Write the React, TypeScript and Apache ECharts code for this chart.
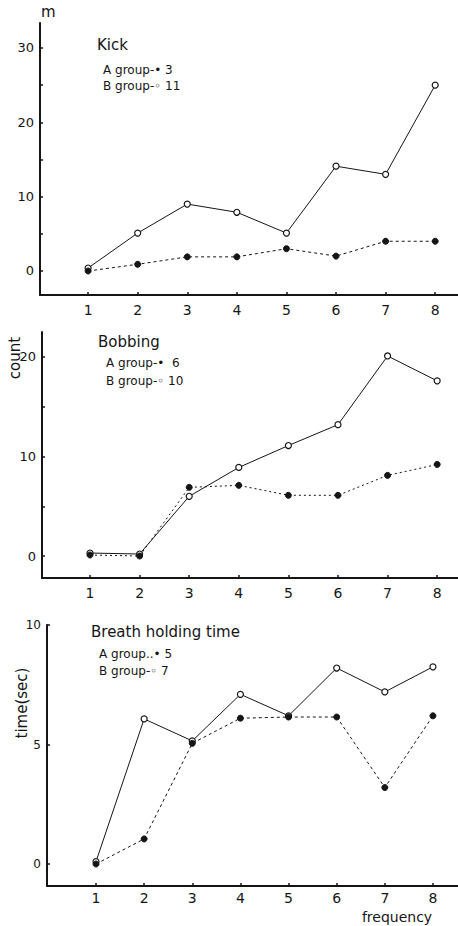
import React, { useEffect, useRef } from "react";
import * as echarts from "echarts";

const frequency = [1, 2, 3, 4, 5, 6, 7, 8];

const kickA = [0, 0.9, 1.9, 1.9, 3, 2, 4, 4];
const kickB = [0.4, 5.1, 9, 7.9, 5.1, 14.1, 13, 25];

const bobbingA = [0.1, 0, 6.9, 7.1, 6.1, 6.1, 8.1, 9.2];
const bobbingB = [0.3, 0.2, 6, 8.9, 11.1, 13.2, 20.1, 17.6];

const breathA = [0, 1.05, 5.05, 6.1, 6.15, 6.15, 3.2, 6.2];
const breathB = [0.1, 6.07, 5.15, 7.1, 6.2, 8.2, 7.2, 8.25];

const kickLabels = [0, 10, 20, 30];
const kickTicks = [0, 5, 10, 15, 20, 25, 30];
const bobbingLabels = [0, 10, 20];
const bobbingTicks = [0, 5, 10, 15, 20];
const breathLabels = [0, 5, 10];
const breathTicks = [0, 5, 10];

const titles = ["Kick", "Bobbing", "Breath holding time"];
const legendA = ["A group-\u2022 3", "A group-\u2022  6", "A group..\u2022 5"];
const legendB = ["B group-\u25E6 11", "B group-\u25E6 10", "B group-\u25E6 7"];

const INK = "#151515";
const FONT = "DejaVu Sans";

function pairs(vals: number[]) {
  return frequency.map((f, i) => [f, vals[i]]);
}

export default function App() {
  const ref = useRef<HTMLDivElement>(null);
  useEffect(() => {
    const chart = echarts.init(ref.current!, null, { renderer: "svg" });

    const grids = [
      { left: 40, top: 23, width: 418, height: 272 },
      { left: 42, top: 332, width: 416, height: 246 },
      { left: 47, top: 625, width: 411, height: 261 },
    ];
    const xr = [
      [0.03, 8.46],
      [0.032, 8.42],
      [-0.018, 8.52],
    ];
    const yr = [
      [-3.23, 33.36],
      [-2.21, 22.51],
      [-0.92, 10],
    ];
    const yLab = [kickLabels, bobbingLabels, breathLabels];
    const yTk = [kickTicks, bobbingTicks, breathTicks];

    const xAxis = grids.map((_, i) => ({
      type: "value",
      gridIndex: i,
      min: xr[i][0],
      max: xr[i][1],
      splitLine: { show: false },
      axisLine: { onZero: false, lineStyle: { color: INK, width: 2 } },
      axisTick: { inside: true, length: 3, customValues: frequency, lineStyle: { color: INK, width: 1.5 } },
      axisLabel: { customValues: frequency, color: INK, fontSize: 14, fontFamily: FONT, margin: i === 2 ? 5 : 8 },
    }));
    const yAxis = grids.map((_, i) => ({
      type: "value",
      gridIndex: i,
      min: yr[i][0],
      max: yr[i][1],
      splitLine: { show: false },
      axisLine: { onZero: false, lineStyle: { color: INK, width: 2 } },
      axisTick: { inside: true, length: 3, customValues: yTk[i], lineStyle: { color: INK, width: 1.5 } },
      axisLabel: {
        customValues: yLab[i],
        color: INK,
        fontSize: i === 2 ? 12 : 13,
        fontFamily: FONT,
        margin: 6,
      },
    }));

    const A = [kickA, bobbingA, breathA];
    const B = [kickB, bobbingB, breathB];
    const dashA = [[3, 3], [2, 3], [3, 3]];
    const series: any[] = [];
    for (let i = 0; i < 3; i++) {
      series.push({
        type: "line",
        name: "B group " + titles[i],
        xAxisIndex: i,
        yAxisIndex: i,
        data: pairs(B[i]),
        symbol: "circle",
        symbolSize: 6,
        lineStyle: { color: INK, width: 1 },
        itemStyle: { color: "#ffffff", borderColor: INK, borderWidth: 1.2 },
        z: 3,
      });
      series.push({
        type: "line",
        name: "A group " + titles[i],
        xAxisIndex: i,
        yAxisIndex: i,
        data: pairs(A[i]),
        symbol: "circle",
        symbolSize: 6,
        lineStyle: { color: INK, width: 1, type: dashA[i] },
        itemStyle: { color: INK, borderColor: INK, borderWidth: 1 },
        z: 4,
      });
    }

    const txt = (text: string, x: number, y: number, size: number, extra: any = {}) => ({
      type: "text",
      x,
      y,
      rotation: extra.rotation || 0,
      style: {
        text,
        fill: INK,
        font: `${size}px "${FONT}"`,
        fontSize: size,
        fontFamily: FONT,
        align: extra.align || "left",
        textAlign: extra.align || "left",
        verticalAlign: "middle",
        textVerticalAlign: "middle",
      },
    });

    const titlePos = [
      [97, 45],
      [98, 342],
      [91, 632],
    ];
    const legPos = [
      [103, 70, 86],
      [106, 363, 381],
      [99, 654, 671],
    ];
    const graphic: any[] = [];
    for (let i = 0; i < 3; i++) {
      graphic.push(txt(titles[i], titlePos[i][0], titlePos[i][1], 15));
      graphic.push(txt(legendA[i], legPos[i][0], legPos[i][1], 12));
      graphic.push(txt(legendB[i], legPos[i][0], legPos[i][2], 12));
    }
    graphic.push(txt("m", 41, 12, 15));
    graphic.push(txt("count", 15, 358, 15, { rotation: Math.PI / 2, align: "center" }));
    graphic.push(txt("time(sec)", 22, 703, 15, { rotation: Math.PI / 2, align: "center" }));
    graphic.push(txt("frequency", 397, 917, 14, { align: "center" }));

    chart.setOption({
      animation: false,
      backgroundColor: "#ffffff",
      grid: grids,
      xAxis,
      yAxis,
      series,
      graphic,
    } as any);
    return () => chart.dispose();
  }, []);
  return (
    <div
      ref={ref}
      style={{ position: "absolute", left: 0, top: 0, width: 458, height: 926 }}
    />
  );
}
